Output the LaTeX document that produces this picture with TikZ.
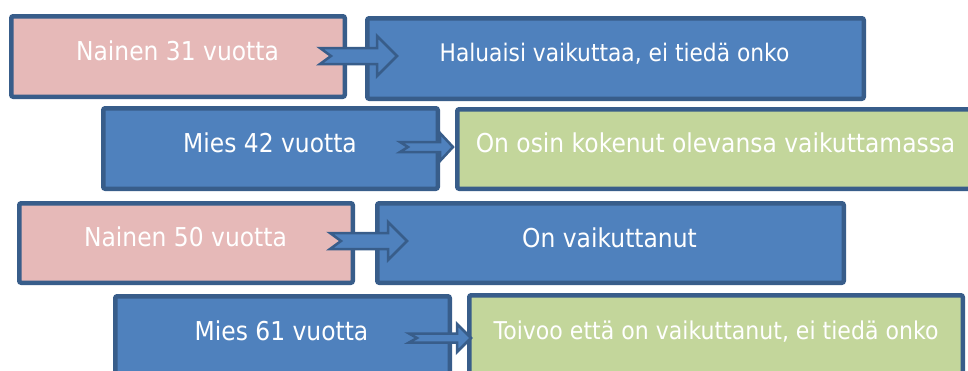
\documentclass[tikz,border=0pt]{standalone}
\usepackage{fontspec}
\setmainfont{DejaVu Sans}[FakeStretch=0.9]
\definecolor{pinkfill}{HTML}{E6B9B8}
\definecolor{bluefill}{HTML}{4F81BD}
\definecolor{greenfill}{HTML}{C3D69B}
\definecolor{edgeblue}{HTML}{385D8A}
\tikzset{
  boxshape/.style={draw=edgeblue, line width=4.5pt, rounded corners=2pt, inner sep=0pt, outer sep=0pt, rectangle},
  lbl/.style={text=white, font=\fontsize{26}{30}\selectfont, anchor=base, inner sep=0pt},
  lblsmall/.style={lbl, font=\fontsize{24.2}{28}\selectfont},
  arr/.style={draw=edgeblue, fill=bluefill, line width=2.5pt, line join=miter}
}
% name, fill, x1, y1, x2, y2 (outer edges in px)
\newcommand\mkbox[6]{\node[boxshape, fill=#2, minimum width={#5-#3-4.5}, minimum height={#6-#4-4.5}] (#1) at ({(#3+#5)/2},{(#4+#6)/2}) {};}
% x0 (tail), xh (head start), xt (tip), yc, shaft half, head half, notch depth
\newcommand\blkarrow[7]{\draw[arr] (#1,#4-#5) -- (#2,#4-#5) -- (#2,#4-#6) -- (#3,#4) -- (#2,#4+#6) -- (#2,#4+#5) -- (#1,#4+#5) -- ({#1+#7},#4) -- cycle;}
\begin{document}
\begin{tikzpicture}[x=1pt,y=-1pt]
\useasboundingbox (0,0) rectangle (968,370);
\clip (0,0) rectangle (968,370);
\fill[white] (0,0) rectangle (968,370);
\mkbox{b1}{pinkfill}{9}{14}{347}{99}
\mkbox{b2}{bluefill}{365}{16}{866}{101}
\mkbox{b3}{bluefill}{101}{106}{440}{191}
\mkbox{b4}{greenfill}{455}{107}{1000}{191}
\mkbox{b5}{pinkfill}{17}{201}{355}{285}
\mkbox{b6}{bluefill}{375}{201}{846}{285}
\mkbox{b7}{bluefill}{113}{294}{452}{400}
\mkbox{b8}{greenfill}{467}{293}{965}{400}
\node[lbl] (t1) at (177.5,60.5) {Nainen 31 vuotta};
\node[lblsmall] (t2) at (614.5,61) {Haluaisi vaikuttaa, ei tiedä onko};
\node[lbl] (t3) at (270,152) {Mies 42 vuotta};
\node[lbl] (t4) at (715.5,152) {On osin kokenut olevansa vaikuttamassa};
\node[lbl] (t5) at (185.5,246) {Nainen 50 vuotta};
\node[lbl] (t6) at (609.5,247) {On vaikuttanut};
\node[lbl] (t7) at (281.5,340) {Mies 61 vuotta};
\node[lblsmall, font=\fontsize{24.5}{28}\selectfont] (t8) at (716,339) {Toivoo että on vaikuttanut, ei tiedä onko};
\blkarrow{320}{377}{397}{56}{8}{20}{11}
\blkarrow{400}{440}{453}{147}{5}{14}{8}
\blkarrow{330}{388}{407}{241}{8}{19}{11}
\blkarrow{409}{457}{471}{338}{4.5}{14}{8}
\end{tikzpicture}
\end{document}
